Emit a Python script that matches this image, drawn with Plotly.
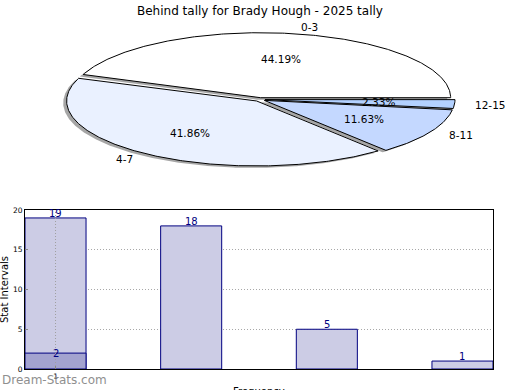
import numpy as np
import plotly.graph_objects as go

# ---------------- data ----------------
title_text = "Behind tally for Brady Hough - 2025 tally"
pie_labels = ["0-3", "4-7", "8-11", "12-15"]
pie_counts = [19, 18, 5, 1]

bar_x = [1, 2, 3, 4]
bar_values = [19, 18, 5, 1]
highlight_x = [1]
highlight_values = [2]
y_ticks = [0, 5, 10, 15, 20]
x_ticks = [1]

# ---------------- style ----------------
W, H = 520, 390
FONT = "DejaVu Sans"
pie_colors = ["#ffffff", "#eaf1ff", "#c4d8ff", "#b3d1ff"]
explode = 0.028
rx_px, ry_px = 190.0, 65.0
cx_px, cy_px = 259.7, 99.5
pie_top_px, pie_bot_px = 0.0, 195.0

fig = go.Figure()

total = float(sum(pie_counts))
fracs = [c / total for c in pie_counts]
starts = np.concatenate([[0.0], np.cumsum(fracs)[:-1]]) * 360.0
ends = np.cumsum(fracs) * 360.0

shadow_dx, shadow_dy = -0.018, -0.03
annotations = []
slices = []
for lab, f, a0, a1, col in zip(pie_labels, fracs, starts, ends, pie_colors):
    mid = np.deg2rad((a0 + a1) / 2.0)
    ox, oy = explode * np.cos(mid), explode * np.sin(mid)
    th = np.deg2rad(np.linspace(a0, a1, max(int((a1 - a0) * 2), 8)))
    xs = np.concatenate([[ox], ox + np.cos(th), [ox]])
    ys = np.concatenate([[oy], oy + np.sin(th), [oy]])
    slices.append((xs, ys, col))
    lx, ly = ox + 1.1 * np.cos(mid), oy + 1.1 * np.sin(mid)
    annotations.append(dict(x=lx, y=ly, xref="x2", yref="y2", text=lab,
                            showarrow=False, xanchor="left" if lx > 0 else "right",
                            yanchor="middle", font=dict(family=FONT, size=10.5, color="black")))
    px_, py_ = ox + 0.6 * np.cos(mid), oy + 0.6 * np.sin(mid)
    annotations.append(dict(x=px_, y=py_, xref="x2", yref="y2", text=f"{f*100:.2f}%",
                            showarrow=False, xanchor="center", yanchor="middle",
                            font=dict(family=FONT, size=10.5, color="black")))

for xs, ys, col in slices:
    fig.add_trace(go.Scatter(x=xs + shadow_dx, y=ys + shadow_dy, mode="lines", fill="toself",
                             fillcolor="rgba(77,77,77,0.5)", line=dict(width=0),
                             xaxis="x2", yaxis="y2", hoverinfo="skip", showlegend=False))
for xs, ys, col in slices:
    fig.add_trace(go.Scatter(x=xs, y=ys, mode="lines", fill="toself",
                             fillcolor=col, line=dict(color="black", width=1),
                             xaxis="x2", yaxis="y2", hoverinfo="skip", showlegend=False))

# bars
fig.add_trace(go.Bar(x=bar_x, y=bar_values, width=0.45, marker=dict(color="#ccccE5",
                     line=dict(color="#000080", width=1)), showlegend=False))
fig.add_trace(go.Bar(x=highlight_x, y=highlight_values, width=0.45, marker=dict(color="#a3a3cf",
                     line=dict(color="#000080", width=1)), showlegend=False))
for xv in x_ticks:
    fig.add_trace(go.Scatter(x=[xv, xv], y=[y_ticks[0], y_ticks[-1]], mode="lines",
                             line=dict(color="#a0a0a0", width=1, dash="1px,2px"),
                             hoverinfo="skip", showlegend=False))

for xv, yv in zip(bar_x, bar_values):
    annotations.append(dict(x=xv, y=yv, xref="x", yref="y", text=str(yv), showarrow=False,
                            xanchor="center", yanchor="bottom", yshift=-3,
                            font=dict(family=FONT, size=10, color="#000080")))
for xv, yv in zip(highlight_x, highlight_values):
    annotations.append(dict(x=xv, y=yv, xref="x", yref="y", text=str(yv), showarrow=False,
                            xanchor="center", yanchor="middle",
                            font=dict(family=FONT, size=10, color="#000080")))

annotations.append(dict(x=0.5, y=1 - 10.5 / H, xref="paper", yref="paper", text=title_text,
                        showarrow=False, xanchor="center", yanchor="middle",
                        font=dict(family=FONT, size=12, color="black")))
annotations.append(dict(x=4 / W, y=1 - 290 / H, xref="paper", yref="paper", text="Stat Intervals",
                        showarrow=False, textangle=-90, xanchor="center", yanchor="middle",
                        font=dict(family=FONT, size=10, color="black")))
annotations.append(dict(x=259 / W, y=1 - 384 / H, xref="paper", yref="paper", text="Frequency",
                        showarrow=False, xanchor="center", yanchor="top",
                        font=dict(family=FONT, size=10, color="black")))
annotations.append(dict(x=0, y=1 - 380 / H, xref="paper", yref="paper", text="Dream-Stats.com",
                        showarrow=False, xanchor="left", yanchor="middle",
                        font=dict(family=FONT, size=12, color="#8f8f8f")))

bx0, bx1 = 25.0, 493.0
by_top, by_bot = 210.0, 369.0
fig.update_layout(
    template="none",
    width=W, height=H, autosize=False,
    margin=dict(l=0, r=0, t=0, b=0, pad=0),
    paper_bgcolor="white", plot_bgcolor="white",
    barmode="overlay", showlegend=False,
    annotations=annotations,
    xaxis=dict(domain=[bx0 / W, bx1 / W], range=[0.775, 4.225], tickvals=x_ticks,
               ticktext=[str(v) for v in x_ticks], showgrid=False, automargin=False,
               showline=True, linecolor="black", linewidth=1,
               mirror=True, ticks="inside", ticklen=3, tickcolor="#888", zeroline=False,
               tickfont=dict(family=FONT, size=7.5, color="black"), fixedrange=True),
    yaxis=dict(domain=[1 - by_bot / H, 1 - by_top / H], range=[0, 20], tickvals=y_ticks,
               showgrid=True, gridcolor="#a8a8a8", griddash="1px,2px", gridwidth=1,
               automargin=False,
               showline=True, linecolor="black", linewidth=1, mirror=True,
               ticks="inside", ticklen=3, tickcolor="#888", zeroline=False,
               tickfont=dict(family=FONT, size=7.5, color="black"), fixedrange=True),
    xaxis2=dict(domain=[0, 1], range=[-cx_px / rx_px, (W - cx_px) / rx_px], visible=False,
                anchor="y2", fixedrange=True, automargin=False),
    yaxis2=dict(domain=[1 - pie_bot_px / H, 1 - pie_top_px / H],
                range=[-(pie_bot_px - cy_px) / ry_px, (cy_px - pie_top_px) / ry_px],
                visible=False, anchor="x2", fixedrange=True, automargin=False),
)

fig.write_html("out.html", config={"displayModeBar": False},
               post_script="document.body.style.margin='0';document.body.style.overflow='hidden';")
